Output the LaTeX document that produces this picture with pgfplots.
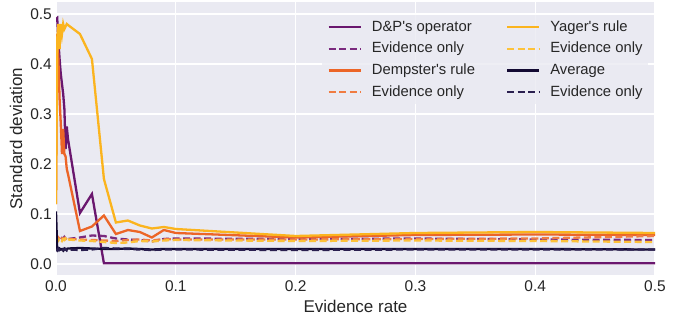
\documentclass[border=0pt]{standalone}
\usepackage{fontspec}
\setmainfont{Liberation Sans}
\usepackage{pgfplots}
\usepackage{pgfplotstable}
\pgfplotsset{compat=1.18}
\definecolor{axbg}{HTML}{EAEAF2}
\definecolor{txt}{HTML}{262626}
\definecolor{cdp}{HTML}{6A176E}
\definecolor{cdpe}{HTML}{7A2A7E}
\definecolor{cds}{HTML}{EC6527}
\definecolor{cdse}{HTML}{F07C42}
\definecolor{cyg}{HTML}{FBB41E}
\definecolor{cyge}{HTML}{FDC23A}
\definecolor{cav}{HTML}{130A33}
\definecolor{cave}{HTML}{2A1F4F}
\pgfplotstableread{
x      dp     dpe    ds     dse    yg     yge    av     ave
0      0.490  0.050  0.120  0.052  0.120  0.055  0.105  0.030
0.001  0.492  0.055  0.460  0.048  0.450  0.050  0.030  0.027
0.002  0.445  0.050  0.410  0.053  0.480  0.047  0.028  0.031
0.003  0.410  0.053  0.330  0.050  0.430  0.052  0.031  0.028
0.004  0.380  0.049  0.280  0.047  0.480  0.049  0.029  0.030
0.005  0.360  0.052  0.220  0.051  0.460  0.046  0.030  0.026
0.006  0.340  0.050  0.270  0.049  0.480  0.050  0.027  0.029
0.007  0.310  0.054  0.220  0.052  0.470  0.048  0.031  0.028
0.008  0.230  0.051  0.215  0.050  0.475  0.051  0.029  0.030
0.009  0.275  0.052  0.190  0.048  0.480  0.047  0.030  0.027
0.010  0.250  0.050  0.180  0.050  0.478  0.049  0.031  0.029
0.020  0.102  0.053  0.066  0.049  0.460  0.047  0.032  0.028
0.030  0.140  0.057  0.075  0.048  0.410  0.046  0.031  0.029
0.040  0.0015 0.056  0.097  0.047  0.170  0.044  0.030  0.032
0.050  0.0015 0.051  0.060  0.046  0.083  0.042  0.030  0.031
0.060  0.0015 0.049  0.068  0.048  0.087  0.043  0.031  0.030
0.070  0.0015 0.048  0.064  0.049  0.077  0.046  0.030  0.029
0.080  0.0015 0.045  0.053  0.047  0.071  0.045  0.029  0.028
0.090  0.0015 0.050  0.068  0.050  0.074  0.047  0.030  0.029
0.100  0.0015 0.051  0.062  0.049  0.070  0.048  0.030  0.029
0.200  0.0015 0.050  0.053  0.049  0.056  0.046  0.030  0.028
0.300  0.0015 0.051  0.058  0.050  0.062  0.047  0.030  0.029
0.400  0.0015 0.049  0.059  0.051  0.064  0.046  0.030  0.029
0.500  0.0015 0.048  0.058  0.056  0.062  0.044  0.029  0.029
}\data
\begin{document}
\begin{tikzpicture}
\useasboundingbox (0,0) rectangle (676pt,324pt);
\begin{axis}[
  at={(56pt,49pt)}, anchor=south west,
  scale only axis, width=599pt, height=273pt,
  xmin=0, xmax=0.5, ymin=-0.022, ymax=0.524,
  axis background/.style={fill=axbg},
  axis line style={draw=none},
  major tick length=0pt,
  grid=major,
  major grid style={white, line width=1.2pt},
  xtick={0,0.1,0.2,0.3,0.4,0.5},
  ytick={0,0.1,0.2,0.3,0.4,0.5},
  /pgf/number format/assume math mode=true,
  /pgf/number format/fixed,
  /pgf/number format/fixed zerofill,
  /pgf/number format/precision=1,
  x tick label style={font=\fontsize{15.5}{18}\selectfont, text=txt, anchor=north, inner sep=0pt, yshift=-5pt},
  y tick label style={font=\fontsize{15.5}{18}\selectfont, text=txt, anchor=east, inner sep=0pt, xshift=-4pt},
  scaled ticks=false,
  xlabel={Evidence rate},
  ylabel={Standard deviation},
  x label style={font=\fontsize{17}{20}\selectfont, text=txt, at={(axis description cs:0.5,0)}, anchor=center, yshift=-31pt},
  y label style={font=\fontsize{17}{20}\selectfont, text=txt, at={(axis description cs:-0.0668,0.5)}, anchor=center},
  legend columns=2,
  legend cell align=left,
  legend image code/.code={\draw[#1] (0pt,0pt) -- (32pt,0pt);},
  legend style={
    at={(axis description cs:0.443,0.953)}, anchor=north west,
    fill=axbg, fill opacity=0.8, text opacity=1, draw=none,
    font=\fontsize{14.8}{17}\selectfont, text=txt,
    inner xsep=6pt, inner ysep=5pt,
    row sep=7.7pt, column sep=10pt,
    nodes={inner sep=0pt, text height=11pt, text depth=3pt},
    /tikz/every even column/.append style={column sep=31pt},
  },
  clip mode=individual,
]
\addplot[cdp, line width=2.3pt, forget plot] table[x=x, y=dp] {\data};
\addplot[cdpe, line width=2.3pt, dash pattern=on 7pt off 3.5pt, forget plot] table[x=x, y=dpe] {\data};
\addplot[cds, line width=2.3pt, forget plot] table[x=x, y=ds] {\data};
\addplot[cdse, line width=2.3pt, dash pattern=on 7pt off 3.5pt, forget plot] table[x=x, y=dse] {\data};
\addplot[cyg, line width=2.3pt, forget plot] table[x=x, y=yg] {\data};
\addplot[cyge, line width=2.3pt, dash pattern=on 7pt off 3.5pt, forget plot] table[x=x, y=yge] {\data};
\addplot[cav, line width=2.3pt, forget plot] table[x=x, y=av] {\data};
\addplot[cave, line width=2.3pt, dash pattern=on 7pt off 3.5pt, forget plot] table[x=x, y=ave] {\data};
\addlegendimage{cdp, line width=2.3pt}\addlegendentry{D\&P\textquotesingle s operator}
\addlegendimage{cyg, line width=2.3pt}\addlegendentry{Yager\textquotesingle s rule}
\addlegendimage{cdpe, line width=2.3pt, dash pattern=on 7pt off 3.5pt}\addlegendentry{Evidence only}
\addlegendimage{cyge, line width=2.3pt, dash pattern=on 7pt off 3.5pt}\addlegendentry{Evidence only}
\addlegendimage{cds, line width=2.3pt}\addlegendentry{Dempster\textquotesingle s rule}
\addlegendimage{cav, line width=2.3pt}\addlegendentry{Average}
\addlegendimage{cdse, line width=2.3pt, dash pattern=on 7pt off 3.5pt}\addlegendentry{Evidence only}
\addlegendimage{cave, line width=2.3pt, dash pattern=on 7pt off 3.5pt}\addlegendentry{Evidence only}
\end{axis}
\end{tikzpicture}
\end{document}
